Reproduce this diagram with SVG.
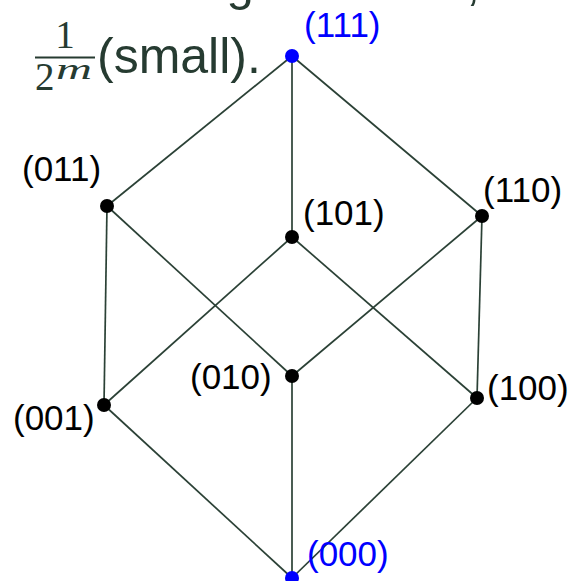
<svg xmlns="http://www.w3.org/2000/svg" width="569" height="581" viewBox="0 0 569 581">
<style>
.txt{font-family:"Liberation Sans",Arial,sans-serif;fill:#263b31}
.math{font-family:"Liberation Serif","DejaVu Serif",serif;fill:#263b31}
.lbl{font-family:"Liberation Sans",Arial,sans-serif;font-size:35px;fill:#000}
.lblb{font-family:"Liberation Sans",Arial,sans-serif;font-size:35px;fill:#0000ff}
.edge{stroke:#2b4136;stroke-width:1.7;fill:none}
.dot{fill:#000}
.dotb{fill:#0000ff}
</style>
<rect width="569" height="581" fill="#fff"/>
<g id="caption">
<text class="txt" x="14" y="0" font-size="49">a matching becomes, the</text>
<text class="math" x="65" y="48" font-size="39" text-anchor="middle">1</text>
<line x1="35" y1="57.5" x2="95" y2="57.5" stroke="#263b31" stroke-width="2"/>
<text class="math" x="35" y="90" font-size="39">2</text>
<text class="math" x="56" y="79" font-size="30" font-style="italic" textLength="36" lengthAdjust="spacingAndGlyphs">m</text>
<text class="txt" x="97" y="73" font-size="50">(small).</text>
</g>
<g id="connectors">
<line class="edge" x1="292" y1="56" x2="107" y2="206"/>
<line class="edge" x1="292" y1="56" x2="292" y2="237"/>
<line class="edge" x1="292" y1="56" x2="482" y2="216"/>
<line class="edge" x1="107" y1="206" x2="104" y2="405"/>
<line class="edge" x1="107" y1="206" x2="292" y2="376"/>
<line class="edge" x1="292" y1="237" x2="104" y2="405"/>
<line class="edge" x1="292" y1="237" x2="477" y2="398"/>
<line class="edge" x1="482" y1="216" x2="292" y2="376"/>
<line class="edge" x1="482" y1="216" x2="477" y2="398"/>
<line class="edge" x1="104" y1="405" x2="292" y2="578"/>
<line class="edge" x1="292" y1="376" x2="292" y2="578"/>
<line class="edge" x1="477" y1="398" x2="292" y2="578"/>
</g>
<g id="n111"><circle class="dotb" cx="292" cy="56" r="7"/><text class="lblb" x="304" y="37">(111)</text></g>
<g id="n011"><circle class="dot" cx="107" cy="206" r="7"/><text class="lbl" x="22" y="181">(011)</text></g>
<g id="n101"><circle class="dot" cx="292" cy="237" r="7"/><text class="lbl" x="303" y="225">(101)</text></g>
<g id="n110"><circle class="dot" cx="482" cy="216" r="7"/><text class="lbl" x="483" y="202">(110)</text></g>
<g id="n010"><circle class="dot" cx="292" cy="376" r="7"/><text class="lbl" x="190" y="389">(010)</text></g>
<g id="n001"><circle class="dot" cx="104" cy="405" r="7"/><text class="lbl" x="13" y="430">(001)</text></g>
<g id="n100"><circle class="dot" cx="477" cy="398" r="7"/><text class="lbl" x="487" y="400" font-size="34">(100)</text></g>
<g id="n000"><circle class="dotb" cx="292" cy="578" r="7"/><text class="lblb" x="307" y="566">(000)</text></g>
</svg>
